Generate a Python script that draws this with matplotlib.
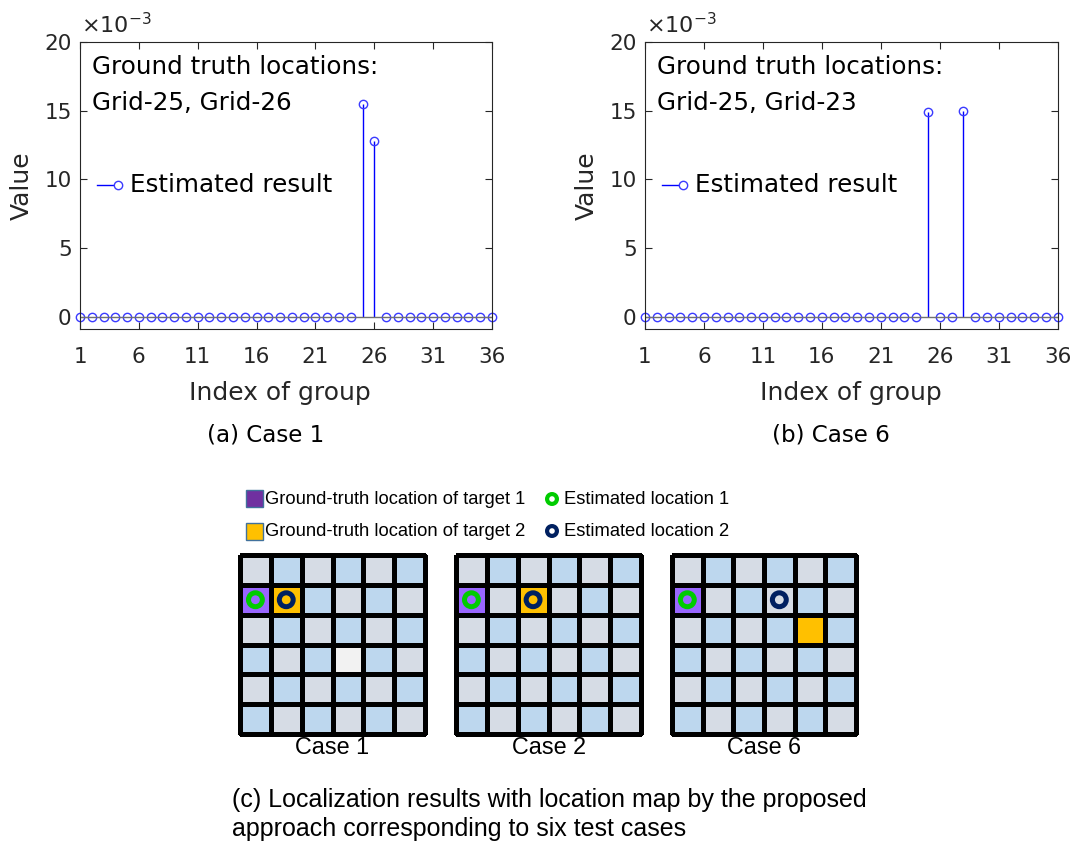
import numpy as np
import matplotlib
matplotlib.use('Agg')
import matplotlib.pyplot as plt
from matplotlib.colors import ListedColormap
from matplotlib.patches import Rectangle
from matplotlib.ticker import FuncFormatter

# group index and estimated block values for the two cases
groups = np.arange(1, 37)
case1_vals = [0, 0, 0, 0, 0, 0, 0, 0, 0, 0, 0, 0,
              0, 0, 0, 0, 0, 0, 0, 0, 0, 0, 0, 0,
              15.45e-3, 12.75e-3, 0, 0, 0, 0, 0, 0, 0, 0, 0, 0]
case6_vals = [0, 0, 0, 0, 0, 0, 0, 0, 0, 0, 0, 0,
              0, 0, 0, 0, 0, 0, 0, 0, 0, 0, 0, 0,
              14.9e-3, 0, 0, 14.95e-3, 0, 0, 0, 0, 0, 0, 0, 0]
xtick_vals = [1, 6, 11, 16, 21, 26, 31, 36]
ytick_vals = [0, 5e-3, 10e-3, 15e-3, 20e-3]

# location maps: 0 grey cell, 1 blue cell, 2 target 1, 3 target 2, 4 empty cell
map_case1 = [[0, 1, 0, 1, 0, 1],
             [2, 3, 1, 0, 1, 0],
             [0, 1, 0, 1, 0, 1],
             [1, 0, 1, 4, 1, 0],
             [0, 1, 0, 1, 0, 1],
             [1, 0, 1, 0, 1, 0]]
map_case2 = [[0, 1, 0, 1, 0, 1],
             [2, 0, 3, 0, 1, 0],
             [0, 1, 0, 1, 0, 1],
             [1, 0, 1, 0, 1, 0],
             [0, 1, 0, 1, 0, 1],
             [1, 0, 1, 0, 1, 0]]
map_case6 = [[0, 1, 0, 1, 0, 1],
             [2, 0, 1, 0, 1, 0],
             [0, 1, 0, 1, 3, 1],
             [1, 0, 1, 0, 1, 0],
             [0, 1, 0, 1, 0, 1],
             [1, 0, 1, 0, 1, 0]]
# estimated cells (row, col) for target 1 and target 2
est1_cells = [(1, 0), (1, 0), (1, 0)]
est2_cells = [(1, 1), (1, 2), (1, 3)]
case_names = ['Case 1', 'Case 2', 'Case 6']

W, H = 1074, 841
fig = plt.figure(figsize=(W / 100, H / 100), dpi=100)
plt.rcParams['font.family'] = 'DejaVu Sans'
plt.rcParams['mathtext.fontset'] = 'dejavusans'

axcol = '#262626'


def px_box(l, r, t, b):
    return [l / W, (H - b) / H, (r - l) / W, (b - t) / H]


def stem_panel(box, vals, gt_text, xlab_x):
    ax = fig.add_axes(box)
    mk, st, bl = ax.stem(groups, vals, linefmt='b-', markerfmt='bo', basefmt='-')
    mk.set_markerfacecolor('none')
    mk.set_markeredgecolor('#3a3aff')
    mk.set_markersize(6)
    mk.set_markeredgewidth(1)
    mk.set_clip_on(False)
    st.set_linewidth(1)
    bl.set_color('#707070')
    bl.set_linewidth(1)
    ax.set_xlim(1, 36)
    ax.set_ylim(-0.9e-3, 20e-3)
    ax.set_xticks(xtick_vals)
    ax.set_yticks(ytick_vals)
    ax.yaxis.set_major_formatter(FuncFormatter(lambda v, p: f'{v * 1e3:g}'))
    ax.tick_params(direction='in', length=5, width=0.8, colors=axcol,
                   labelsize=15.5, top=True, right=True)
    ax.tick_params(axis='x', pad=13)
    ax.tick_params(axis='y', pad=6)
    for sp in ax.spines.values():
        sp.set_color(axcol)
        sp.set_linewidth(0.8)
    ax.set_xlabel('Index of group', fontsize=18, color=axcol, va='center')
    ax.xaxis.set_label_coords(xlab_x, -0.2215)
    ax.set_ylabel('Value', fontsize=18, color=axcol, va='center')
    ax.yaxis.set_label_coords(-0.141, 0.5)
    ax.annotate(r'$\times10^{-3}$', xy=(0, 1), xycoords='axes fraction',
                xytext=(1, 3), textcoords='offset points', fontsize=16,
                color=axcol, va='bottom', ha='left')
    ax.text(0.029, 0.912, 'Ground truth locations:', transform=ax.transAxes,
            fontsize=17.7, va='center')
    ax.text(0.029, 0.787, gt_text, transform=ax.transAxes, fontsize=17.7,
            va='center')
    # legend entry drawn the MATLAB way: short line with the marker at its end
    ax.plot([0.041, 0.092], [0.502, 0.502], color='b', lw=1,
            transform=ax.transAxes)
    ax.plot([0.092], [0.502], 'o', mec='#3a3aff', mfc='white', ms=6, mew=1,
            transform=ax.transAxes)
    ax.text(0.121, 0.502, 'Estimated result', transform=ax.transAxes,
            fontsize=17.7, va='center')
    return ax


stem_panel(px_box(80, 492, 41.7, 329.3), case1_vals, 'Grid-25, Grid-26', 0.485)
stem_panel(px_box(645, 1057.7, 41.7, 329.3), case6_vals, 'Grid-25, Grid-23', 0.5)

# location maps
cell_cmap = ListedColormap(['#D6DCE5', '#BDD7EE', '#9966FF', '#FFC000', '#F2F2F2'])
map_boxes = [(240, 425), (456, 641), (672, 856)]
maps = [map_case1, map_case2, map_case6]
for (l, r), m, e1, e2, name in zip(map_boxes, maps, est1_cells, est2_cells, case_names):
    ax = fig.add_axes(px_box(l, r, 555, 734))
    mesh = ax.pcolormesh(np.array(m), cmap=cell_cmap, vmin=-0.5, vmax=4.5,
                         edgecolors='black', linewidth=2.3)
    mesh.set_clip_on(False)
    ax.scatter([e1[1] + 0.5], [e1[0] + 0.5], s=100, facecolors='none',
               edgecolors='#00CC00', linewidths=3.6, zorder=3)
    ax.scatter([e2[1] + 0.5], [e2[0] + 0.5], s=100, facecolors='none',
               edgecolors='#002060', linewidths=3.6, zorder=3)
    ax.set_xlim(0, 6)
    ax.set_ylim(6, 0)
    ax.axis('off')
    fig.text(((l + r) / 2) / W, 1 - 748 / H, name, fontsize=16.8,
             family='Liberation Sans', ha='center', va='center')

# overlay in pixel units for captions and the map legend
ov = fig.add_axes([0, 0, 1, 1], zorder=5)
ov.set_xlim(0, W)
ov.set_ylim(H, 0)
ov.axis('off')
ov.patch.set_alpha(0)

ov.text(266, 435, '(a) Case 1', fontsize=16.6, ha='center', va='center')
ov.text(831, 435, '(b) Case 6', fontsize=16.6, ha='center', va='center')

ov.add_patch(Rectangle((246, 490), 17, 17, facecolor='#7030A0',
                       edgecolor='#41719C', lw=1))
ov.add_patch(Rectangle((246, 523), 17, 17, facecolor='#FFC000',
                       edgecolor='#41719C', lw=1))
ov.text(265, 499, 'Ground-truth location of target 1', fontsize=13.2,
        family='Liberation Sans', va='center')
ov.text(265, 531, 'Ground-truth location of target 2', fontsize=13.2,
        family='Liberation Sans', va='center')
ov.scatter([552], [499], s=50, facecolors='none', edgecolors='#00CC00',
           linewidths=3)
ov.scatter([552], [531], s=50, facecolors='none', edgecolors='#002060',
           linewidths=3)
ov.text(564, 499, 'Estimated location 1', fontsize=13.2,
        family='Liberation Sans', va='center')
ov.text(564, 531, 'Estimated location 2', fontsize=13.2,
        family='Liberation Sans', va='center')

ov.text(232, 800, '(c) Localization results with location map by the proposed',
        fontsize=18, family='Liberation Sans', va='center')
ov.text(232, 829, 'approach corresponding to six test cases',
        fontsize=18, family='Liberation Sans', va='center')

fig.savefig('out.png', dpi=100)
